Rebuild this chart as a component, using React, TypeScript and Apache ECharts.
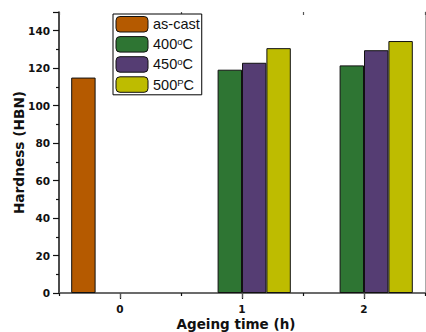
import React, { useEffect, useRef } from "react";
import * as echarts from "echarts";

const categories = ["0", "1", "2"];
const seriesNames = ["as-cast", "400oC", "450oC", "500PC"];
const asCast = [115, null, null];
const t400 = [null, 119.2, 121.5];
const t450 = [null, 122.9, 129.6];
const t500 = [null, 130.7, 134.5];
const yTicks = { min: 0, max: 150, interval: 20 };
const colors = ["#B55A00", "#2E7533", "#553D73", "#BEBC00"];

const TITLE_FONT = "DejaVu Sans";

export default function App() {
  const ref = useRef<HTMLDivElement>(null);
  useEffect(() => {
    if (!ref.current) return;
    const chart = echarts.init(ref.current, null, { renderer: "svg" });
    const values = [asCast, t400, t450, t500];
    const gridBox = { left: 59, right: 1, top: 12, bottom: 39, containLabel: false, outerBoundsMode: "none" };
    chart.setOption({
      animation: false,
      backgroundColor: "#ffffff",
      grid: [{ ...gridBox }, { ...gridBox }],
      legend: {
        orient: "vertical",
        left: 113,
        top: 14,
        itemWidth: 32,
        itemHeight: 15.5,
        itemGap: 3.6,
        padding: [2, 2, 2, 2.5],
        borderColor: "#000",
        borderWidth: 1,
        backgroundColor: "#fff",
        data: seriesNames,
        itemStyle: { borderColor: "#111", borderWidth: 1 },
        formatter: (name: string) => {
          const m = /^(\d+)(\w)C$/.exec(name);
          if (!m) return name;
          return `{n|${m[1]}}{s|${m[2]}}{n|C}`;
        },
        textStyle: {
          fontFamily: "Liberation Sans",
          fontSize: 14.5,
          color: "#111",
          lineHeight: 15,
          rich: {
            n: { fontFamily: "Liberation Sans", fontSize: 14.5, color: "#111", lineHeight: 15 },
            s: { fontFamily: "Liberation Sans", fontSize: 9.5, color: "#111", verticalAlign: "top", lineHeight: 15 },
          },
        },
      },
      xAxis: [
        {
          type: "category",
          gridIndex: 0,
          position: "bottom",
          data: categories,
          name: "Ageing time (h)",
          nameLocation: "middle",
          nameGap: 24,
          nameMoveOverlap: false,
          nameTextStyle: {
            fontFamily: TITLE_FONT,
            fontWeight: "bold",
            fontSize: 13.5,
            color: "#111",
            padding: [0, 12, 0, 0],
          },
          axisLine: { show: true, lineStyle: { color: "#111", width: 1.5 } },
          axisTick: { show: true, alignWithLabel: true, length: 6, lineStyle: { color: "#111", width: 1.2 } },
          axisLabel: {
            margin: 10,
            fontFamily: TITLE_FONT,
            fontWeight: "bold",
            fontSize: 10.5,
            color: "#111",
          },
          splitLine: { show: false },
        },
        {
          type: "category",
          gridIndex: 0,
          position: "top",
          data: categories,
          axisLine: { show: true, lineStyle: { color: "#777", width: 1.5 } },
          axisTick: { show: true, inside: true, alignWithLabel: true, length: 5, lineStyle: { color: "#555", width: 1.2 } },
          axisLabel: { show: false },
          splitLine: { show: false },
        },
        {
          type: "category",
          gridIndex: 1,
          position: "bottom",
          data: categories,
          axisLine: { show: false },
          axisTick: { show: true, length: 3, lineStyle: { color: "#111", width: 1.2 } },
          axisLabel: { show: false },
          splitLine: { show: false },
        },
        {
          type: "category",
          gridIndex: 1,
          position: "top",
          data: categories,
          axisLine: { show: false },
          axisTick: { show: true, inside: true, length: 3, lineStyle: { color: "#555", width: 1.2 } },
          axisLabel: { show: false },
          splitLine: { show: false },
        },
      ],
      yAxis: [
        {
          type: "value",
          gridIndex: 0,
          position: "left",
          min: yTicks.min,
          max: yTicks.max,
          interval: yTicks.interval,
          name: "Hardness (HBN)",
          nameLocation: "middle",
          nameGap: 33,
          nameMoveOverlap: false,
          nameTextStyle: {
            fontFamily: TITLE_FONT,
            fontWeight: "bold",
            fontSize: 13.7,
            color: "#111",
          },
          axisLine: { show: true, lineStyle: { color: "#111", width: 1.5 } },
          axisTick: { show: true, length: 6, lineStyle: { color: "#111", width: 1.2 } },
          minorTick: { show: true, splitNumber: 2, length: 3, lineStyle: { color: "#111", width: 1.2 } },
          axisLabel: {
            margin: 9,
            showMaxLabel: false,
            fontFamily: TITLE_FONT,
            fontWeight: "bold",
            fontSize: 10.5,
            color: "#111",
          },
          splitLine: { show: false },
          minorSplitLine: { show: false },
        },
        {
          type: "value",
          gridIndex: 0,
          position: "right",
          min: yTicks.min,
          max: yTicks.max,
          axisLine: { show: true, lineStyle: { color: "#aaa", width: 1 } },
          axisTick: { show: false },
          axisLabel: { show: false },
          splitLine: { show: false },
        },
        {
          type: "value",
          gridIndex: 1,
          min: yTicks.min,
          max: yTicks.max,
          show: false,
        },
      ],
      series: seriesNames.map((name, i) => ({
        name,
        type: "bar",
        xAxisIndex: 0,
        yAxisIndex: 0,
        data: values[i],
        barGap: "0%",
        barCategoryGap: "20%",
        itemStyle: { color: colors[i], borderColor: "#111", borderWidth: 1 },
      })),
    });
    return () => chart.dispose();
  }, []);
  return <div ref={ref} style={{ width: 426, height: 332, position: "absolute", left: 0, top: 0 }} />;
}
